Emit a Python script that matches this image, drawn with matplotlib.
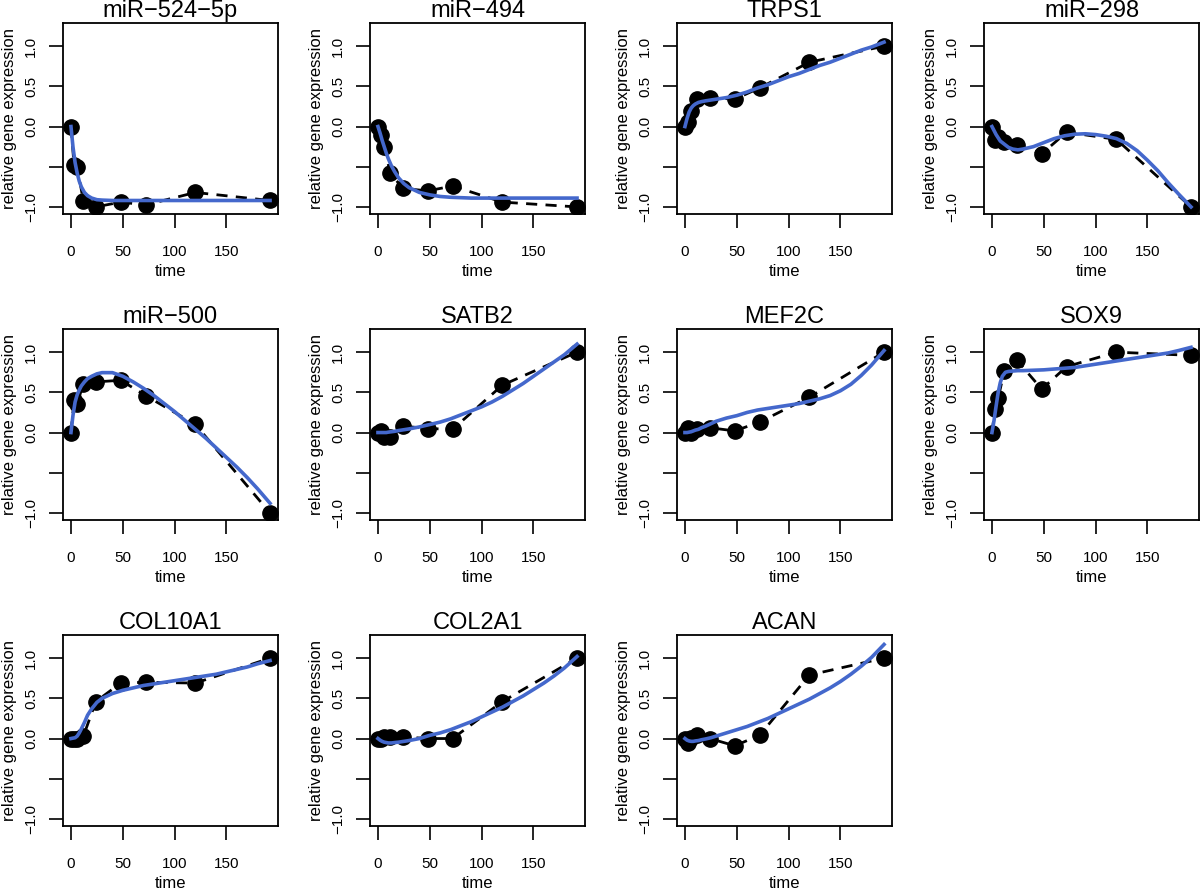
import numpy as np
import matplotlib.pyplot as plt

plt.rcParams['font.family'] = ['Liberation Sans', 'DejaVu Sans']

# sampling times (hours)
time = [0, 3, 6, 12, 24, 48, 72, 120, 192]

genes = ['miR\u2212524\u22125p', 'miR\u2212494', 'TRPS1', 'miR\u2212298',
         'miR\u2212500', 'SATB2', 'MEF2C', 'SOX9',
         'COL10A1', 'COL2A1', 'ACAN']

# measured relative expression
obs_mir524 = [0, -0.48, -0.50, -0.93, -1.00, -0.94, -0.975, -0.82, -0.92]
obs_mir494 = [0, -0.10, -0.26, -0.58, -0.77, -0.80, -0.74, -0.94, -1.00]
obs_trps1 = [0, 0.06, 0.19, 0.34, 0.36, 0.34, 0.48, 0.80, 1.00]
obs_mir298 = [0, -0.17, -0.13, -0.19, -0.23, -0.34, -0.07, -0.16, -1.00]
obs_mir500 = [0, 0.40, 0.36, 0.61, 0.63, 0.65, 0.46, 0.10, -1.00]
obs_satb2 = [0, 0.02, -0.06, -0.06, 0.08, 0.05, 0.04, 0.59, 1.00]
obs_mef2c = [0, 0.06, 0.00, 0.04, 0.06, 0.02, 0.13, 0.44, 1.00]
obs_sox9 = [0, 0.29, 0.43, 0.77, 0.90, 0.54, 0.82, 1.00, 0.96]
obs_col10a1 = [0, -0.01, 0.00, 0.03, 0.46, 0.69, 0.70, 0.69, 1.00]
obs_col2a1 = [0, 0.00, 0.02, 0.02, 0.02, 0.00, 0.00, 0.46, 1.00]
obs_acan = [0, -0.05, 0.01, 0.04, 0.00, -0.09, 0.04, 0.79, 1.00]

fit_time = [0, 2, 4, 6, 8, 10, 13, 16, 20, 25, 30, 40, 50, 60, 70, 80, 90,
            100, 110, 120, 130, 140, 150, 160, 170, 180, 192]
fit_mir524 = [0, -0.26, -0.45, -0.58, -0.68, -0.75, -0.82, -0.86, -0.89, -0.91,
              -0.915, -0.92, -0.92, -0.92, -0.92, -0.92, -0.92, -0.92, -0.92,
              -0.92, -0.92, -0.92, -0.92, -0.92, -0.92, -0.92, -0.92]
fit_mir494 = [0, -0.08, -0.17, -0.25, -0.33, -0.40, -0.49, -0.56, -0.64, -0.71,
              -0.76, -0.82, -0.85, -0.87, -0.88, -0.885, -0.89, -0.89, -0.89,
              -0.89, -0.89, -0.89, -0.89, -0.89, -0.89, -0.89, -0.89]
fit_trps1 = [0, 0.10, 0.18, 0.23, 0.26, 0.28, 0.30, 0.31, 0.32, 0.33, 0.34,
             0.36, 0.39, 0.43, 0.48, 0.52, 0.57, 0.62, 0.66, 0.71, 0.76, 0.80,
             0.85, 0.90, 0.95, 0.99, 1.05]
fit_mir298 = [0, -0.05, -0.10, -0.14, -0.18, -0.20, -0.23, -0.26, -0.28, -0.29,
              -0.28, -0.25, -0.20, -0.15, -0.115, -0.095, -0.09, -0.10, -0.12,
              -0.15, -0.21, -0.30, -0.42, -0.55, -0.70, -0.84, -1.00]
fit_mir500 = [0, 0.22, 0.38, 0.47, 0.53, 0.58, 0.63, 0.67, 0.70, 0.73, 0.745,
              0.745, 0.70, 0.63, 0.55, 0.46, 0.36, 0.26, 0.15, 0.04, -0.07,
              -0.19, -0.31, -0.43, -0.56, -0.70, -0.88]
fit_satb2 = [0, 0, 0, 0, 0, 0.005, 0.01, 0.015, 0.025, 0.035, 0.045, 0.07, 0.10,
             0.13, 0.17, 0.22, 0.27, 0.32, 0.38, 0.45, 0.53, 0.61, 0.70, 0.79,
             0.88, 0.97, 1.10]
fit_mef2c = [0, 0, 0.005, 0.01, 0.02, 0.03, 0.04, 0.06, 0.08, 0.11, 0.14, 0.18,
             0.21, 0.25, 0.28, 0.30, 0.32, 0.34, 0.36, 0.39, 0.42, 0.46, 0.52,
             0.60, 0.71, 0.84, 1.02]
fit_sox9 = [0, 0.15, 0.33, 0.50, 0.62, 0.70, 0.75, 0.76, 0.765, 0.77, 0.77,
            0.775, 0.78, 0.79, 0.80, 0.81, 0.83, 0.85, 0.87, 0.89, 0.91, 0.93,
            0.95, 0.97, 0.99, 1.02, 1.06]
fit_col10a1 = [0, 0.005, 0.01, 0.03, 0.07, 0.12, 0.20, 0.29, 0.37, 0.45, 0.50,
               0.56, 0.60, 0.63, 0.66, 0.68, 0.70, 0.72, 0.74, 0.76, 0.78, 0.80,
               0.83, 0.86, 0.89, 0.93, 0.97]
fit_col2a1 = [0, -0.02, -0.035, -0.045, -0.05, -0.055, -0.055, -0.05, -0.045,
              -0.035, -0.025, 0.0, 0.04, 0.07, 0.11, 0.16, 0.21, 0.27, 0.33,
              0.39, 0.46, 0.53, 0.61, 0.69, 0.78, 0.88, 1.02]
fit_acan = [0, -0.02, -0.03, -0.035, -0.035, -0.03, -0.025, -0.015, -0.005,
            0.01, 0.03, 0.07, 0.11, 0.15, 0.20, 0.25, 0.31, 0.37, 0.43, 0.49,
            0.56, 0.63, 0.71, 0.80, 0.90, 1.01, 1.17]

observed = [obs_mir524, obs_mir494, obs_trps1, obs_mir298, obs_mir500,
            obs_satb2, obs_mef2c, obs_sox9, obs_col10a1, obs_col2a1, obs_acan]
fitted = [fit_mir524, fit_mir494, fit_trps1, fit_mir298, fit_mir500,
          fit_satb2, fit_mef2c, fit_sox9, fit_col10a1, fit_col2a1, fit_acan]

yticks = [-1.0, -0.5, 0.0, 0.5, 1.0]
ytick_labels = ['\u22121.0', '', '0.0', '0.5', '1.0']
xticks = [0, 50, 100, 150]

W, H = 1200, 893
fig = plt.figure(figsize=(W / 100, H / 100), dpi=100)

for i, gene in enumerate(genes):
    row, col = divmod(i, 4)
    left = 63 + 307 * col
    top = 23 + 306 * row
    ax = fig.add_axes([left / W, 1 - (top + 191) / H, 215 / W, 191 / H])

    ax.plot(time, observed[i], color='black', lw=2, dashes=(4, 3), zorder=1)
    ax.plot(time, observed[i], 'o', color='black', ms=11, zorder=2)
    ax.plot(fit_time, fitted[i], color='#4468CC', lw=2.6, zorder=3)

    ax.set_xlim(-7.68, 199.68)
    ax.set_ylim(-1.088, 1.288)
    ax.set_xticks(xticks)
    ax.set_yticks(yticks)
    ax.set_yticklabels(ytick_labels, rotation=90, va='center')
    ax.tick_params(axis='both', direction='out', length=10, width=1.2,
                   labelsize=11)
    ax.tick_params(axis='x', pad=12)
    ax.tick_params(axis='y', pad=8)
    for sp in ax.spines.values():
        sp.set_linewidth(1.3)

    ax.set_title(gene, fontsize=17, pad=4)
    ax.set_xlabel('time', fontsize=12)
    ax.set_ylabel('relative gene expression', fontsize=12)
    ax.xaxis.set_label_coords(0.5, -0.262)
    ax.yaxis.set_label_coords(-0.212, 0.5)

fig.savefig('out.png', dpi=100)
